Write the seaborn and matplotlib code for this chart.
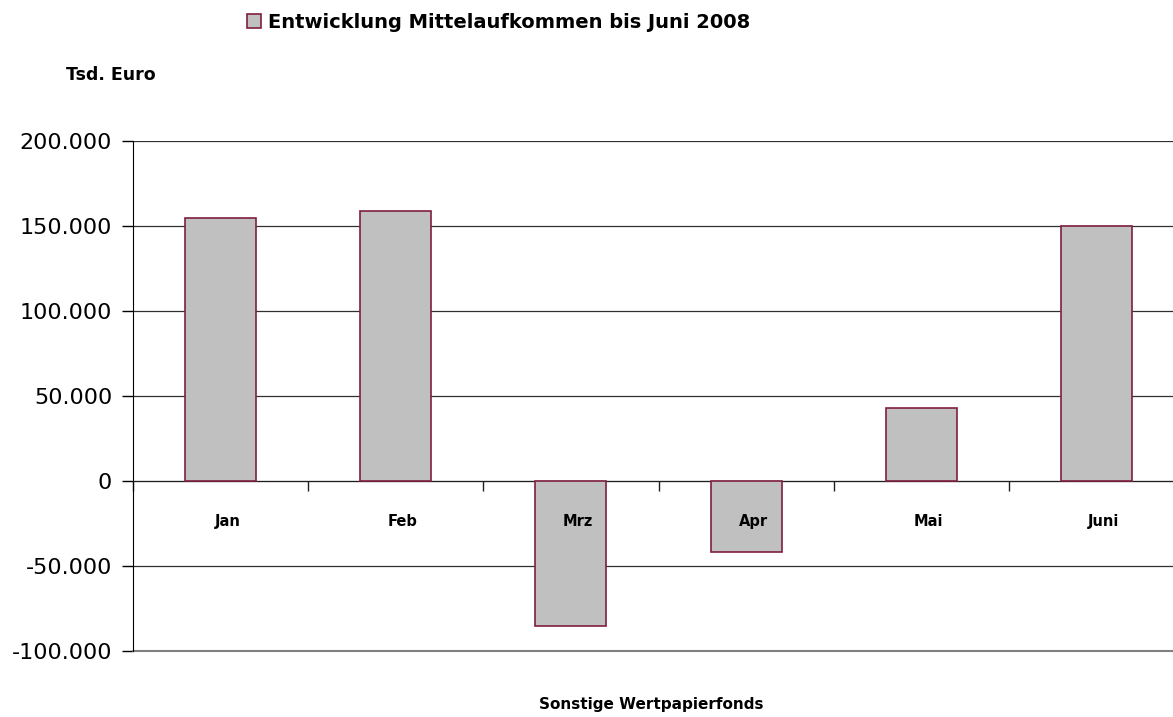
import matplotlib
matplotlib.use("Agg")
import matplotlib.pyplot as plt
import seaborn as sns
import pandas as pd
from matplotlib.patches import Patch
from matplotlib.ticker import FuncFormatter, FixedLocator

# Data (Tsd. Euro)
months = ["Jan", "Feb", "Mrz", "Apr", "Mai", "Juni"]
values = [155000, 159000, -85000, -42000, 43000, 150000]
legend_label = "Entwicklung Mittelaufkommen bis Juni 2008"

df = pd.DataFrame({"Monat": months, "Wert": values})

sns.set_style("white")
plt.rcParams["font.family"] = ["DejaVu Sans"]
plt.rcParams["text.color"] = "black"

fig = plt.figure(figsize=(11.73, 7.17), dpi=100)
ax = fig.add_axes([133 / 1173, 1 - 651 / 717, (1184 - 133) / 1173, (651 - 141) / 717])

sns.barplot(data=df, x="Monat", y="Wert", color="#c0c0c0", edgecolor="#7f1f3f",
            linewidth=1.2, width=0.405, saturation=1, ax=ax, zorder=3)

ax.set_ylim(-100000, 200000)
ax.set_xlim(-0.5, len(months) - 0.5)
ax.set_yticks(range(-100000, 200001, 50000))
ax.yaxis.set_major_formatter(FuncFormatter(lambda v, p: f"{int(v):,}".replace(",", ".")))
ax.tick_params(axis="y", labelsize=16, length=8, width=1, direction="out", left=True,
               pad=7, colors="black")
ax.grid(axis="y", color="#303030", linewidth=0.9, zorder=0)
ax.axhline(-100000, color="#808080", linewidth=1.5, clip_on=False, zorder=1)

# category boundary ticks on the zero line
ax.spines["bottom"].set_position(("data", 0))
ax.spines["bottom"].set_color("#202020")
ax.xaxis.set_major_locator(FixedLocator([i - 0.5 for i in range(len(months) + 1)]))
ax.set_xticklabels([])
ax.tick_params(axis="x", length=7, width=1, direction="out", bottom=True, colors="#202020")
ax.spines["top"].set_visible(False)
ax.spines["right"].set_visible(False)
ax.spines["left"].set_color("black")
ax.set_xlabel("")
ax.set_ylabel("")

for i, m in enumerate(months):
    ax.annotate(m, xy=(i, 0), xytext=(5, -29), textcoords="offset points",
                ha="center", va="center", fontsize=10.5, fontweight="bold", zorder=5)

fig.text(66 / 1173, 1 - 75 / 717, "Tsd. Euro", ha="left", va="center",
         fontsize=12.5, fontweight="bold")
fig.text(651 / 1173, 1 - 704 / 717, "Sonstige Wertpapierfonds", ha="center", va="center",
         fontsize=11, fontweight="bold")

fig.legend(handles=[Patch(facecolor="#c0c0c0", edgecolor="#7f1f3f", linewidth=1.2, label=legend_label)],
           loc="center left", bbox_to_anchor=(229 / 1173, 1 - 22 / 717), frameon=False,
           prop={"size": 14, "weight": "bold"}, handlelength=0.75, handleheight=0.75,
           handletextpad=0.35)

fig.savefig("out.png", dpi=100)
